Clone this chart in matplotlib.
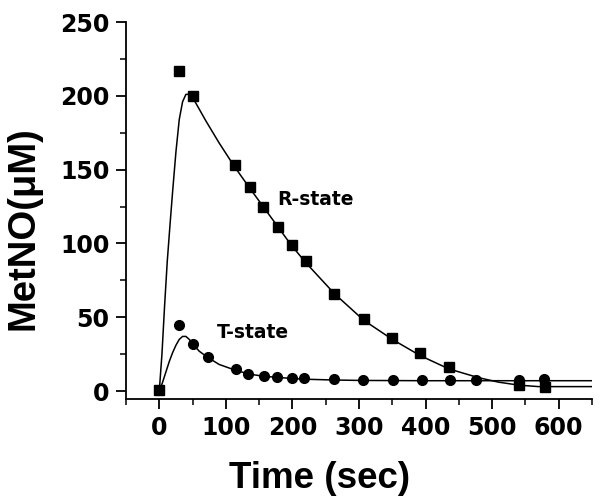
import matplotlib
matplotlib.use("Agg")
import matplotlib.pyplot as plt
from matplotlib.ticker import MultipleLocator

# Measured data: R-state (squares)
r_time = [0, 30, 51, 113, 136, 156, 178, 199, 221, 263, 307, 349, 391, 435, 541, 579]
r_metno = [1, 217, 200, 153, 138, 125, 111, 99, 88, 66, 49, 36, 26, 16, 4, 3]

# Measured data: T-state (circles)
t_time = [0, 30, 50, 73, 115, 134, 157, 177, 200, 218, 263, 306, 351, 394, 436, 475, 540, 578]
t_metno = [1, 45, 32, 23, 14.6, 11.5, 10, 9.7, 8.6, 8.6, 7.9, 7.5, 7.5, 7.5, 7.5, 7.5, 7.5, 8]

# Fitted curves
r_fit_time = [0, 4, 8, 12, 16, 20, 25, 30, 35, 40, 47, 55, 70, 90, 113, 135, 156, 177,
              198, 220, 263, 307, 350, 392, 435, 480, 510, 540, 570, 600, 650]
r_fit_val = [0, 25, 58, 88, 112, 135, 162, 184, 196, 201, 201, 195, 183, 168, 152, 138,
             125, 112, 99, 87, 66, 48, 35, 24, 15, 9, 6, 4, 3, 3, 3]
t_fit_time = [0, 5, 10, 15, 20, 25, 30, 35, 40, 45, 50, 60, 72, 90, 115, 135, 157, 177,
              200, 220, 260, 300, 400, 500, 650]
t_fit_val = [0, 6, 13, 20, 26, 31, 35, 37, 37, 35, 32, 27, 23, 18, 14, 11.5, 10, 9.3,
             8.5, 8, 7.5, 7.2, 7, 7, 7]

x_ticks = [0, 100, 200, 300, 400, 500, 600]
y_ticks = [0, 50, 100, 150, 200, 250]

plt.rcParams['font.family'] = ['Liberation Sans', 'DejaVu Sans']

fig = plt.figure(figsize=(6.02, 5.04), dpi=100)
ax = fig.add_axes([0.2093, 0.2083, 0.7741, 0.748])

ax.plot(r_fit_time, r_fit_val, color='black', lw=1.1)
ax.plot(t_fit_time, t_fit_val, color='black', lw=1.1)
ax.plot(r_time, r_metno, 's', color='black', ms=7.5, ls='none')
ax.plot(t_time, t_metno, 'o', color='black', ms=7, ls='none')

ax.text(177, 130, 'R-state', fontsize=13.5, fontweight='bold', va='center', ha='left',
        family='DejaVu Sans')
ax.text(86, 40, 'T-state', fontsize=13.5, fontweight='bold', va='center', ha='left',
        family='DejaVu Sans')

ax.set_xlim(-50, 650)
ax.set_ylim(-5.4, 250)
ax.set_xticks(x_ticks)
ax.set_yticks(y_ticks)
ax.xaxis.set_minor_locator(MultipleLocator(50))
ax.yaxis.set_minor_locator(MultipleLocator(25))

for s in ['top', 'right']:
    ax.spines[s].set_visible(False)
for s in ['left', 'bottom']:
    ax.spines[s].set_linewidth(1.3)

ax.tick_params(which='major', direction='out', length=7, width=1.3, labelsize=17, pad=5)
ax.tick_params(which='minor', direction='out', length=4, width=1.1)
for lab in ax.get_xticklabels() + ax.get_yticklabels():
    lab.set_fontweight('bold')
    lab.set_family('DejaVu Sans')

ax.text(0.416, -0.236, 'Time (sec)', transform=ax.transAxes, fontsize=26.5,
        fontweight='bold', ha='center', va='baseline')
ax.text(-0.219, 0.454, 'MetNO(μM)', transform=ax.transAxes, fontsize=27.5,
        fontweight='bold', ha='center', va='center', rotation=90)

fig.savefig('out.png', dpi=100)
